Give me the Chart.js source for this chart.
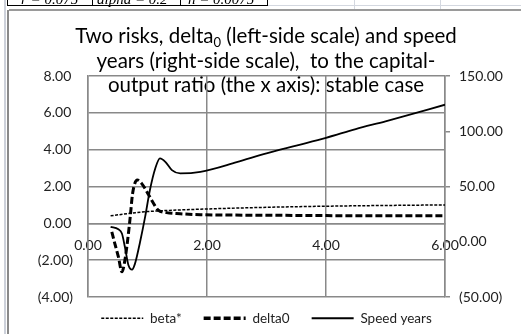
<!DOCTYPE html>
<html>
<head>
<meta charset="utf-8">
<script src="https://cdn.jsdelivr.net/npm/chart.js@4.4.1/dist/chart.umd.min.js"></script>
<style>
  html, body { margin: 0; padding: 0; background: #fff; }
  #wrap { position: relative; width: 521px; height: 334px; overflow: hidden; }
  #wrap canvas { position: absolute; left: 0; top: 0; }
  .ln { position: absolute; }
</style>
</head>
<body>
<div id="wrap">
  <canvas id="chart" width="521" height="334"></canvas>
  <!-- bits of the spreadsheet around the chart -->
  <div class="ln" style="left:4px;top:0;width:2px;height:334px;background:#cdd1da"></div>
  <div class="ln" style="left:7px;top:10px;width:2px;height:324px;background:#8a8a8a"></div>
  <div class="ln" style="left:9px;top:9px;width:512px;height:2px;background:#9a9a9a"></div>
  <div class="ln" style="left:7px;top:0;width:1px;height:6px;background:#000"></div>
  <div class="ln" style="left:92px;top:0;width:1px;height:6px;background:#000"></div>
  <div class="ln" style="left:180px;top:0;width:1px;height:6px;background:#000"></div>
  <div class="ln" style="left:267px;top:0;width:1px;height:6px;background:#000"></div>
  <div class="ln" style="left:7px;top:5px;width:261px;height:1px;background:#000"></div>
  <div class="ln" style="left:268px;top:5px;width:253px;height:1px;background:#d4d8e0"></div>
  <div class="ln" style="left:354px;top:0;width:1px;height:9px;background:#d4d8e0"></div>
  <div class="ln" style="left:440px;top:0;width:1px;height:9px;background:#d4d8e0"></div>
</div>
<script>
// values
const betaX = [0.38, 0.6, 0.8, 1.0, 1.5, 2.0, 3.0, 4.0, 5.0, 6.0];
const betaStar = [0.41, 0.50, 0.58, 0.64, 0.72, 0.78, 0.87, 0.93, 0.97, 1.00];

const deltaX = [0.40, 0.45, 0.51, 0.57, 0.62, 0.68, 0.71, 0.75, 0.83, 0.90, 1.02, 1.10, 1.18, 1.32, 1.55, 1.89, 3.0, 4.0, 5.0, 6.0];
const delta0 = [-0.46, -1.09, -1.81, -2.63, -2.0, -0.54, 0.36, 1.63, 2.35, 2.17, 1.54, 1.09, 0.72, 0.58, 0.52, 0.47, 0.44, 0.42, 0.41, 0.41];

const speedX = [0.38, 0.51, 0.57, 0.62, 0.68, 0.74, 0.79, 0.875, 0.96, 1.04, 1.13, 1.21, 1.30, 1.41, 1.55, 1.89, 2.5, 3.0, 3.5, 4.0, 4.5, 5.0, 5.5, 6.0];
const speedYears = [13.4, 11.3, 7.4, -4.7, -21.3, -25.2, -19.8, -0.2, 22.5, 46.6, 66.3, 75.4, 72.3, 64.8, 61.8, 63.2, 72, 80, 87, 94, 102, 109, 116.5, 124];

const seriesNames = ['beta*', 'delta0', 'Speed years'];
const xTicks = [0, 2, 4, 6];
const leftTicks = [-4, -2, 0, 2, 4, 6, 8];
const rightTicks = [-50, 0, 50, 100, 150];
const tableTexts = ['r = 0.075', 'alpha = 0.2', 'n = 0.0075'];

const GRID = '#898989';
const INK = '#222';
const FONT = 'Lato, "Open Sans", sans-serif';

// excel accounting style: negatives in brackets
const fmt = v => v < 0 ? '(' + Math.abs(v).toFixed(2) + ')' : v.toFixed(2);
const pts = (xs, ys) => xs.map((x, i) => ({ x: x, y: ys[i] }));
const setTicks = list => scale => { scale.ticks = list.map(v => ({ value: v })); };

// title sits partly inside the plot, so it is drawn by hand
const titlePlugin = {
  id: 'excelTitle',
  beforeDraw(chart) {
    const ctx = chart.ctx;
    ctx.save();
    ctx.fillStyle = '#fff';
    ctx.fillRect(0, 0, chart.width, chart.height);
    ctx.fillStyle = '#000';
    ctx.textBaseline = 'alphabetic';
    const big = '20.5px ' + FONT, small = '13px ' + FONT;
    const cx = 266;
    // line 1 with subscript
    const a = 'Two risks, delta', s = '0', b = ' (left-side scale) and speed';
    ctx.font = big;
    const wa = ctx.measureText(a).width, wb = ctx.measureText(b).width;
    ctx.font = small;
    const ws = ctx.measureText(s).width;
    let x = cx - (wa + ws + wb) / 2;
    ctx.font = big; ctx.textAlign = 'left';
    ctx.fillText(a, x, 43);
    ctx.font = small;
    ctx.fillText(s, x + wa, 47);
    ctx.font = big;
    ctx.fillText(b, x + wa + ws, 43);
    ctx.textAlign = 'center';
    ctx.fillText('years (right-side scale),  to the capital-', cx, 67.5);
    ctx.fillText('output ratio (the x axis): stable case', cx, 92);
    // cut-off cells above the chart
    ctx.font = 'italic 15px "Liberation Serif", serif';
    ctx.textAlign = 'left';
    ctx.fillText(tableTexts[0], 21, 3.5);
    ctx.fillText(tableTexts[1], 97, 3.5);
    ctx.fillText(tableTexts[2], 188, 3.5);
    ctx.restore();
  },
  afterLayout(chart) {
    // nudge the legend row up and a bit to the right
    const lg = chart.legend;
    lg.top -= 7.5; lg.bottom -= 7.5;
    lg.left += 6; lg.right += 6;
  }
};

new Chart(document.getElementById('chart'), {
  type: 'line',
  data: {
    datasets: [
      {
        label: seriesNames[0],
        data: pts(betaX, betaStar),
        yAxisID: 'y',
        borderColor: '#000',
        borderWidth: 1.5,
        borderDash: [3, 1.5],
        pointRadius: 0,
        cubicInterpolationMode: 'monotone'
      },
      {
        label: seriesNames[1],
        data: pts(deltaX, delta0),
        yAxisID: 'y',
        borderColor: '#000',
        borderWidth: 3,
        borderDash: [7, 3],
        pointRadius: 0,
        cubicInterpolationMode: 'monotone'
      },
      {
        label: seriesNames[2],
        data: pts(speedX, speedYears),
        yAxisID: 'y1',
        borderColor: '#000',
        borderWidth: 1.8,
        pointRadius: 0,
        cubicInterpolationMode: 'monotone'
      }
    ]
  },
  options: {
    responsive: false,
    animation: false,
    layout: { padding: { left: 10, right: 10, top: 76, bottom: 0 } },
    scales: {
      x: {
        type: 'linear',
        position: { y: 0 },
        min: 0, max: 6,
        afterBuildTicks: setTicks(xTicks),
        grid: { color: GRID, lineWidth: 1.5, drawTicks: false },
        border: { color: GRID, width: 1.5 },
        ticks: {
          padding: 14,
          color: INK,
          font: { family: FONT, size: 14 },
          maxRotation: 0,
          callback: v => fmt(v)
        }
      },
      y: {
        position: 'left',
        min: -4, max: 8,
        afterBuildTicks: setTicks(leftTicks),
        afterFit: s => { s.width = 78; },
        grid: { color: GRID, lineWidth: 1.5, drawTicks: false },
        border: { color: GRID, width: 1.5 },
        ticks: {
          padding: 15,
          color: INK,
          font: { family: FONT, size: 14 },
          callback: v => v < 0 ? fmt(v) : fmt(v) + '\u2009'
        }
      },
      y1: {
        position: 'right',
        min: -50, max: 150,
        afterBuildTicks: setTicks(rightTicks),
        afterFit: s => { s.width = 66; },
        grid: { drawOnChartArea: false, color: GRID, lineWidth: 1.5, tickLength: 5 },
        border: { color: GRID, width: 1.5 },
        ticks: {
          padding: 9,
          color: INK,
          font: { family: FONT, size: 14 },
          callback: v => fmt(v)
        }
      }
    },
    plugins: {
      title: { display: false },
      tooltip: { enabled: false },
      legend: {
        position: 'bottom',
        maxHeight: 37,
        labels: {
          usePointStyle: true,
          pointStyle: 'line',
          pointStyleWidth: 42,
          padding: 22,
          color: INK,
          font: { family: FONT, size: 13.5 },
          generateLabels: chart => chart.data.datasets.map((ds, i) => ({
            text: ds.label,
            datasetIndex: i,
            hidden: false,
            fillStyle: 'rgba(0,0,0,0)',
            strokeStyle: ds.borderColor,
            lineWidth: i === 1 ? 3.5 : ds.borderWidth,
            lineDash: ds.borderDash || [],
            pointStyle: 'line',
            fontColor: INK
          }))
        }
      }
    }
  },
  plugins: [titlePlugin]
});
</script>
</body>
</html>
